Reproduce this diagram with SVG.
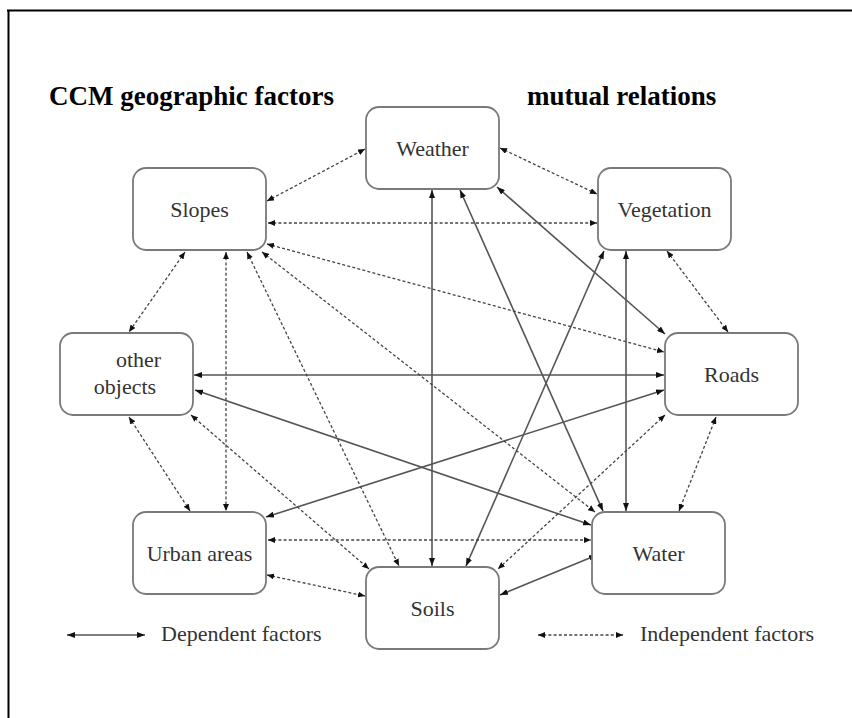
<svg xmlns="http://www.w3.org/2000/svg" width="852" height="718" viewBox="0 0 852 718">
<defs>
<style>
.box{fill:#fff;stroke:#7a7a7a;stroke-width:1.8}
.lbl{font-family:'Liberation Serif','Times New Roman',Times,'DejaVu Serif',serif;font-size:22px;fill:#333;text-anchor:middle}
.title{font-family:'Liberation Serif','Times New Roman',Times,'DejaVu Serif',serif;font-size:27px;font-weight:bold;fill:#000}
.dep{stroke:#555;stroke-width:1.6;fill:none;marker-start:url(#ah);marker-end:url(#ah)}
.ind{stroke:#444;stroke-width:1.3;fill:none;stroke-dasharray:3 2.2;marker-start:url(#ah2);marker-end:url(#ah2)}
</style>
<marker id="ah" viewBox="0 0 8 6" refX="8" refY="3" markerWidth="8" markerHeight="6" markerUnits="userSpaceOnUse" orient="auto-start-reverse">
<path d="M0,0 L8,3 L0,6 z" fill="#111"/>
</marker>
<marker id="ah2" viewBox="0 0 7 6" refX="7" refY="3" markerWidth="7" markerHeight="6" markerUnits="userSpaceOnUse" orient="auto-start-reverse">
<path d="M0,0 L7,3 L0,6 z" fill="#111"/>
</marker>
</defs>
<rect width="852" height="718" fill="#fff"/>
<g id="frame">
<line x1="7" y1="10.5" x2="852" y2="10.5" stroke="#000" stroke-width="2"/>
<line x1="8.5" y1="10" x2="8.5" y2="718" stroke="#000" stroke-width="2"/>
</g>
<g id="titles">
<text class="title" x="49" y="105" font-family="Liberation Serif, serif">CCM geographic factors</text>
<text class="title" x="527" y="105" font-family="Liberation Serif, serif">mutual relations</text>
</g>
<g id="connectors">
<line class="dep" x1="432" y1="190" x2="432" y2="566"/>
<line class="dep" x1="460" y1="190" x2="603" y2="511"/>
<line class="dep" x1="497" y1="187" x2="665" y2="334"/>
<line class="dep" x1="604" y1="251" x2="466" y2="566"/>
<line class="dep" x1="626" y1="251" x2="626" y2="511"/>
<line class="dep" x1="194" y1="375" x2="664" y2="375"/>
<line class="dep" x1="195" y1="390" x2="591" y2="525"/>
<line class="dep" x1="266" y1="517" x2="664" y2="390"/>
<line class="dep" x1="500" y1="595" x2="597" y2="555"/>
<line class="ind" x1="267" y1="201" x2="365" y2="149"/>
<line class="ind" x1="268" y1="223" x2="597" y2="223"/>
<line class="ind" x1="500" y1="148" x2="597" y2="194"/>
<line class="ind" x1="267" y1="244" x2="664" y2="352"/>
<line class="ind" x1="185" y1="252" x2="129" y2="332"/>
<line class="ind" x1="226" y1="252" x2="226" y2="511"/>
<line class="ind" x1="247" y1="252" x2="399" y2="566"/>
<line class="ind" x1="262" y1="252" x2="595" y2="512"/>
<line class="ind" x1="667" y1="251" x2="728" y2="332"/>
<line class="ind" x1="129" y1="417" x2="190" y2="511"/>
<line class="ind" x1="191" y1="415" x2="369" y2="569"/>
<line class="ind" x1="665" y1="415" x2="498" y2="569"/>
<line class="ind" x1="716" y1="417" x2="679" y2="511"/>
<line class="ind" x1="268" y1="540" x2="591" y2="540"/>
<line class="ind" x1="267" y1="575" x2="365" y2="596"/>
</g>
<g id="weather"><rect class="box" x="366" y="107" width="133" height="82" rx="13"/><text class="lbl" x="432.5" y="156">Weather</text></g>
<g id="slopes"><rect class="box" x="133" y="168" width="133" height="82" rx="13"/><text class="lbl" x="199.5" y="217">Slopes</text></g>
<g id="vegetation"><rect class="box" x="598" y="168" width="133" height="82" rx="13"/><text class="lbl" x="664.5" y="217">Vegetation</text></g>
<g id="other-objects"><rect class="box" x="60" y="333" width="133" height="82" rx="13"/><text class="lbl" x="138.5" y="367">other</text><text class="lbl" x="125" y="394">objects</text></g>
<g id="roads"><rect class="box" x="665" y="333" width="133" height="82" rx="13"/><text class="lbl" x="731.5" y="382">Roads</text></g>
<g id="urban-areas"><rect class="box" x="133" y="512" width="133" height="82" rx="13"/><text class="lbl" x="199.5" y="561">Urban areas</text></g>
<g id="water"><rect class="box" x="592" y="512" width="133" height="82" rx="13"/><text class="lbl" x="658.5" y="561">Water</text></g>
<g id="soils"><rect class="box" x="366" y="567" width="133" height="82" rx="13"/><text class="lbl" x="432.5" y="616">Soils</text></g>
<g id="legend">
<line class="dep" x1="67" y1="635" x2="145" y2="635"/>
<text class="lbl" x="161" y="641" style="text-anchor:start">Dependent factors</text>
<line class="ind" x1="538" y1="635" x2="623" y2="635"/>
<text class="lbl" x="640" y="641" style="text-anchor:start">Independent factors</text>
</g>
</svg>
